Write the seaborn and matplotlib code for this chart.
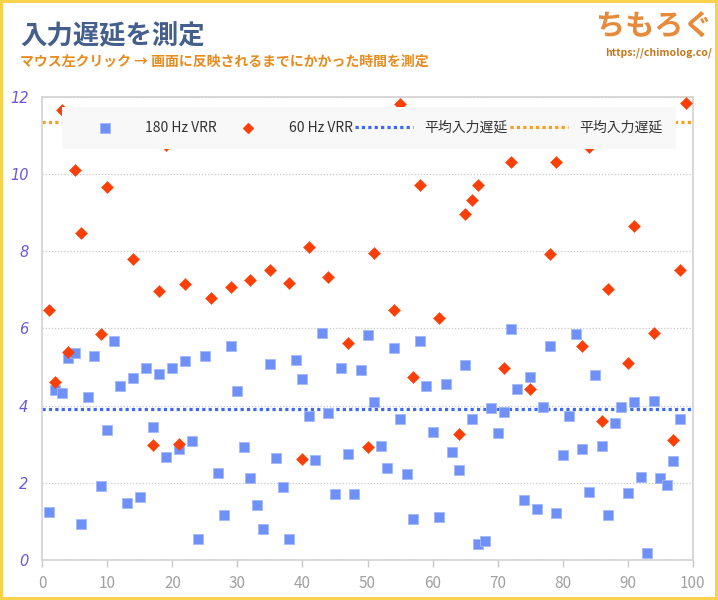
import matplotlib
matplotlib.use("Agg")
import matplotlib.pyplot as plt
import seaborn as sns
import pandas as pd

# 180 Hz VRR measurements (trial no., latency ms)
vrr180_trial = [1, 2, 3, 4, 5, 6, 7, 8, 9, 10, 11, 12, 13, 14, 15, 16, 17, 18, 19, 20,
                21, 22, 23, 24, 25, 27, 28, 29, 30, 31, 32, 33, 34, 35, 36, 37, 38, 39, 40,
                41, 42, 43, 44, 45, 46, 47, 48, 49, 50, 51, 52, 53, 54, 55, 56, 57, 58, 59,
                60, 61, 62, 63, 64, 65, 66, 67, 68, 69, 70, 71, 72, 73, 74, 75, 76, 77, 78,
                79, 80, 81, 82, 83, 84, 85, 86, 87, 88, 89, 90, 91, 92, 93, 94, 95, 96, 97, 98]
vrr180_ms = [1.23, 4.40, 4.32, 5.22, 5.35, 0.93, 4.23, 5.28, 1.92, 3.37, 5.68, 4.51, 1.47,
             4.71, 1.64, 4.97, 3.45, 4.82, 2.66, 4.97, 2.87, 5.16, 3.07, 0.54, 5.28, 2.26,
             1.17, 5.55, 4.38, 2.92, 2.12, 1.42, 0.79, 5.08, 2.63, 1.88, 0.54, 5.18, 4.68,
             3.74, 2.59, 5.87, 3.80, 1.71, 4.97, 2.75, 1.71, 4.92, 5.84, 4.08, 2.96, 2.39,
             5.50, 3.65, 2.22, 1.05, 5.68, 4.51, 3.32, 1.11, 4.56, 2.79, 2.33, 5.05, 3.65,
             0.41, 0.50, 3.93, 3.28, 3.84, 5.98, 4.43, 1.55, 4.75, 1.31, 3.95, 5.55, 1.21,
             2.72, 3.73, 5.85, 2.87, 1.75, 4.79, 2.94, 1.17, 3.56, 3.96, 1.74, 4.10, 2.15,
             0.17, 4.13, 2.12, 1.94, 2.57, 3.64]

# 60 Hz VRR measurements visible inside the 0-12 ms window
vrr60_trial = [1, 2, 3, 4, 5, 6, 9, 10, 14, 17, 18, 19, 21, 22, 26, 29, 32, 35, 38, 40, 41,
               44, 47, 50, 51, 54, 55, 57, 58, 61, 64, 65, 66, 67, 71, 72, 75, 78, 79, 83,
               84, 86, 87, 90, 91, 94, 97, 98, 99]
vrr60_ms = [6.48, 4.61, 11.65, 5.40, 10.10, 8.46, 5.85, 9.65, 7.79, 2.98, 6.98, 10.75, 3.00,
            7.15, 6.78, 7.06, 7.25, 7.51, 7.17, 2.61, 8.10, 7.32, 5.63, 2.92, 7.94, 6.48,
            11.81, 4.75, 9.72, 6.26, 3.26, 8.96, 9.33, 9.72, 4.98, 10.30, 4.43, 7.92, 10.32,
            5.53, 10.70, 3.61, 7.02, 5.10, 8.66, 5.89, 3.11, 7.51, 11.85]

avg_180 = 3.90
avg_60 = 11.34

series_labels = ["180 Hz VRR", "60 Hz VRR", "平均入力遅延", "平均入力遅延"]
title = "入力遅延を測定"
subtitle = "マウス左クリック → 画面に反映されるまでにかかった時間を測定"

df180 = pd.DataFrame({"trial": vrr180_trial, "ms": vrr180_ms})
df60 = pd.DataFrame({"trial": vrr60_trial, "ms": vrr60_ms})

sns.set_theme(style="white")
plt.rcParams["font.family"] = ["Noto Sans CJK JP", "DejaVu Sans"]

fig = plt.figure(figsize=(7.18, 6.0), dpi=100, edgecolor="#f9d24c", linewidth=4)
ax = fig.add_axes([0.0589, 0.0667, 0.9059, 0.7721])

sns.scatterplot(data=df180, x="trial", y="ms", color="#6e90f7", marker="s", s=55,
                edgecolor="#a3b9fa", linewidth=0.6, label=series_labels[0], ax=ax, zorder=3)
sns.scatterplot(data=df60, x="trial", y="ms", color="#fb3f07", marker="D", s=38,
                edgecolor="#fb3f07", linewidth=0.3, label=series_labels[1], ax=ax, zorder=3)
ax.axhline(avg_180, color="#3d68f2", linestyle=(0, (1, 1)), linewidth=2.3,
           label=series_labels[2], zorder=2)
ax.axhline(avg_60, color="#f5a01e", linestyle=(0, (1, 1)), linewidth=2.3,
           label=series_labels[3], zorder=2)

ax.set_xlim(0, 100)
ax.set_ylim(0, 12)
ax.set_xticks(range(0, 101, 10))
ax.set_yticks(range(0, 13, 2))
ax.set_xlabel("")
ax.set_ylabel("")

ax.yaxis.grid(True, color="#c8c8c8", linestyle=(0, (1, 1.5)), linewidth=0.9)
ax.xaxis.grid(False)
for side in ["left", "right", "top", "bottom"]:
    ax.spines[side].set_color("#d2d2d2")
    ax.spines[side].set_linewidth(1.2)

ax.tick_params(axis="x", bottom=True, length=5, width=1, color="#c8c8c8",
               labelcolor="#a0a0a0", labelsize=11, pad=6)
ax.tick_params(axis="y", left=False, labelcolor="#6b58e0", labelsize=10.5, pad=4)
for lab in ax.get_yticklabels():
    lab.set_family("DejaVu Sans")
    lab.set_fontstyle("italic")

leg = ax.legend(ncol=4, mode="expand", loc="center",
                bbox_to_anchor=(0.0195, 0.885, 0.966, 0.095),
                facecolor="#f8f8f8", edgecolor="none", framealpha=1,
                fontsize=10, handlelength=4.2, markerscale=0.9,
                borderpad=1.0, fancybox=False)
for t in leg.get_texts():
    t.set_color("#333333")

fig.text(0.028, 0.938, title, fontsize=19, fontweight="bold", color="#455f8c",
         va="center", ha="left")
fig.text(0.028, 0.897, subtitle, fontsize=10, fontweight="bold", color="#e88b1e",
         va="center", ha="left")
fig.text(0.992, 0.958, "ちもろぐ", fontsize=21, fontweight="bold", color="#e68a3c",
         va="center", ha="right")
fig.text(0.992, 0.912, "https://chimolog.co/", fontsize=7.5, fontweight="bold",
         color="#c4781c", va="center", ha="right")

fig.savefig("out.png", dpi=100, facecolor="white", edgecolor=fig.get_edgecolor())
